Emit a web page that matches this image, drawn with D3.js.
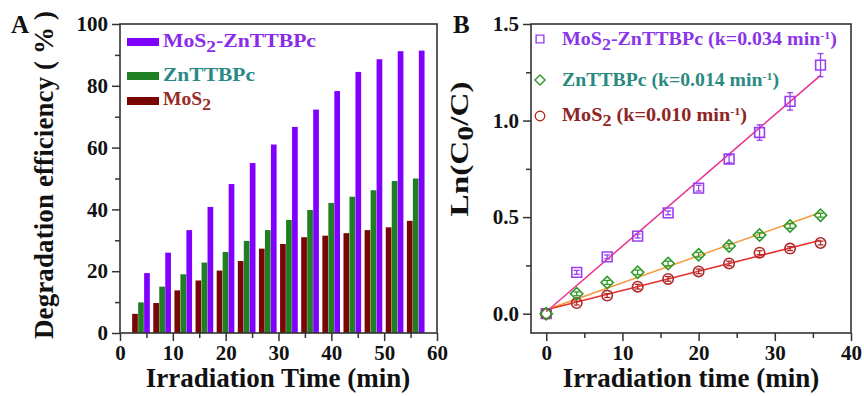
<!doctype html>
<html lang="en">
<head>
  <meta charset="UTF-8">
  <title>degradation</title>
  <style type="text/css">
    body { margin: 0; background: #fff; }
    text { font-family: "Liberation Serif", "Times New Roman", serif; font-weight: bold; }
  </style>
  <script src="https://cdn.jsdelivr.net/npm/d3@7/dist/d3.min.js"></script>
</head>
<body>
  <div id="container"></div>
  <script>
    // ---- panel A data (degradation %, per time point)
    var timesA = [4, 8, 12, 16, 20, 24, 28, 32, 36, 40, 44, 48, 52, 56];
    var hybrid = [19.4, 26, 33.3, 40.8, 48.2, 55, 61, 66.7, 72.3, 78.3, 84.5, 88.6, 91.2, 91.4];
    var znpc = [9.9, 15, 19, 22.8, 26.2, 29.8, 33.3, 36.6, 39.8, 42.1, 44.1, 46.2, 49.2, 50];
    var mos2 = [6.2, 9.7, 13.8, 17, 20.2, 23.3, 27.3, 28.8, 31, 31.5, 32.3, 33.3, 34.2, 36.3];
    var namesA = ["MoS_{2}-ZnTTBPc", "ZnTTBPc", "MoS_{2}"];

    // ---- panel B data (ln(C0/C))
    var timesB = [0, 4, 8, 12, 16, 20, 24, 28, 32, 36];
    var lnHybrid = [0, 0.214, 0.294, 0.402, 0.522, 0.65, 0.801, 0.938, 1.099, 1.287];
    var errHybrid = [0, 0.01, 0.01, 0.01, 0.01, 0.015, 0.02, 0.04, 0.045, 0.06];
    var lnZnpc = [0, 0.103, 0.162, 0.214, 0.26, 0.305, 0.351, 0.407, 0.454, 0.51];
    var errZnpc = [0, 0.01, 0.01, 0.012, 0.012, 0.012, 0.012, 0.012, 0.012, 0.01];
    var lnMos2 = [0, 0.055, 0.094, 0.14, 0.18, 0.219, 0.26, 0.316, 0.337, 0.366];
    var errMos2 = [0, 0.01, 0.01, 0.012, 0.012, 0.012, 0.012, 0.01, 0.01, 0.01];
    var kValues = [0.034, 0.014, 0.010];
    var intercepts = [0.01, 0.02, 0.02];
    var namesB = ["MoS_{2}-ZnTTBPc (k=0.034 min^{-1})", "ZnTTBPc (k=0.014 min^{-1})", "MoS_{2} (k=0.010 min^{-1})"];

    var width = 864, height = 396;
    var svg = d3.select('#container').append('svg').attr('width', width).attr('height', height);

    // text with _{sub} and ^{sup}
    function rich(t, str) {
      var parts = str.split(/(_\{[^}]*\}|\^\{[^}]*\})/).filter(Boolean);
      var back = 0;
      parts.forEach(function (p) {
        var ts = t.append('tspan');
        if (p[0] == '_') {
          ts.attr('dy', back + 5).attr('font-size', '0.9em').text(p.slice(2, -1)); back = -5;
        } else if (p[0] == '^') {
          ts.attr('dy', back - 6).attr('font-size', '0.6em').text(p.slice(2, -1)); back = 6;
        } else {
          ts.attr('dy', back).text(p); back = 0;
        }
      });
      return t;
    }

    function frame(g, x, y) {
      g.append('rect')
        .attr('x', x.range()[0]).attr('y', y.range()[1])
        .attr('width', x.range()[1] - x.range()[0])
        .attr('height', y.range()[0] - y.range()[1])
        .attr('fill', 'none').attr('stroke', '#333').attr('stroke-width', 1.6);
    }

    function axes(g, x, y, xt, xm, yt, ym, yfmt) {
      var ax = g.append('g').attr('transform', 'translate(0,' + y.range()[0] + ')')
        .call(d3.axisBottom(x).tickValues(xm).tickSize(5).tickFormat(''));
      ax.select('.domain').remove();
      var ax2 = g.append('g').attr('transform', 'translate(0,' + y.range()[0] + ')')
        .call(d3.axisBottom(x).tickValues(xt).tickSize(8).tickPadding(4));
      ax2.select('.domain').remove();
      var ay = g.append('g').attr('transform', 'translate(' + x.range()[0] + ',0)')
        .call(d3.axisLeft(y).tickValues(ym).tickSize(5).tickFormat(''));
      ay.select('.domain').remove();
      var ay2 = g.append('g').attr('transform', 'translate(' + x.range()[0] + ',0)')
        .call(d3.axisLeft(y).tickValues(yt).tickSize(8).tickPadding(4).tickFormat(yfmt));
      ay2.select('.domain').remove();
      g.selectAll('.tick line').attr('stroke', '#333').attr('stroke-width', 1.5);
      g.selectAll('.tick text').attr('font-size', 21).attr('fill', '#111')
        .attr('font-family', '"Liberation Serif", serif').style('font-weight', 'bold');
    }

    // ================= Panel A =================
    var gA = svg.append('g');
    var xA = d3.scaleLinear().domain([0, 60]).range([120, 437]);
    var yA = d3.scaleLinear().domain([0, 100]).range([333, 24]);
    var colorsA = ['#7f00ff', '#1f7f22', '#7a0505'];
    var textColA = ['#8a2be8', '#2a8a86', '#9a2a2a'];
    var seriesA = [mos2, znpc, hybrid];
    var colA = [colorsA[2], colorsA[1], colorsA[0]];
    var off = d3.scaleBand().domain([0, 1, 2]).range([-1.7, 1.7]).padding(0);
    seriesA.forEach(function (s, k) {
      gA.append('g').selectAll('rect').data(s).enter().append('rect')
        .attr('x', function (d, i) { return xA(timesA[i] + off(k)); })
        .attr('width', xA(off.bandwidth()) - xA(0) - 0.3)
        .attr('y', function (d) { return yA(d); })
        .attr('height', function (d) { return yA(0) - yA(d); })
        .attr('fill', colA[k]);
    });
    frame(gA, xA, yA);
    axes(gA, xA, yA, d3.range(0, 61, 10), d3.range(5, 60, 10), d3.range(0, 101, 20), d3.range(10, 100, 20), d3.format('d'));

    // legend A
    var legA = { y: [42, 76, 101], base: [47, 81, 105], len: [153, 92, 48] };
    namesA.forEach(function (n, i) {
      gA.append('rect').attr('x', 127).attr('y', legA.y[i] - 4).attr('width', 32).attr('height', 8).attr('fill', colorsA[i]);
      rich(gA.append('text').attr('x', 163).attr('y', legA.base[i]).attr('font-size', 18).attr('fill', textColA[i])
        .attr('textLength', legA.len[i]).attr('lengthAdjust', 'spacingAndGlyphs'), n);
    });

    gA.append('text').attr('x', 278).attr('y', 387).attr('text-anchor', 'middle').attr('font-size', 27)
      .attr('fill', '#111').text('Irradiation Time (min)');
    gA.append('text').attr('transform', 'translate(53,175) rotate(-90)').attr('text-anchor', 'middle')
      .attr('font-size', 27).attr('fill', '#111')
      .attr('textLength', 328).attr('lengthAdjust', 'spacing').text('Degradation efficiency ( % )');
    gA.append('text').attr('x', 11).attr('y', 33).attr('font-size', 25).attr('fill', '#111').text('A');

    // ================= Panel B =================
    var gB = svg.append('g');
    var xB = d3.scaleLinear().domain([-2, 40]).range([531, 851]);
    var yB = d3.scaleLinear().domain([-0.1, 1.5]).range([333, 24]);
    var markCol = ['#9a3ff0', '#2f9a2a', '#b02a2a'];
    var lineCol = ['#e8308c', '#f59a3a', '#e83232'];
    var textColB = ['#8a35e8', '#2a8a80', '#8e2424'];

    // fit lines
    kValues.forEach(function (k, i) {
      var ends = [timesB[0], timesB[timesB.length - 1]];
      gB.append('line')
        .attr('x1', xB(ends[0])).attr('y1', yB(intercepts[i] + k * ends[0]))
        .attr('x2', xB(ends[1])).attr('y2', yB(intercepts[i] + k * ends[1]))
        .attr('stroke', lineCol[i]).attr('stroke-width', 1.5);
    });

    function errBars(vals, errs, col) {
      var g = gB.append('g').attr('stroke', col).attr('stroke-width', 1.3);
      vals.forEach(function (v, i) {
        if (!errs[i]) return;
        var cx = xB(timesB[i]);
        g.append('line').attr('x1', cx).attr('x2', cx).attr('y1', yB(v - errs[i])).attr('y2', yB(v + errs[i]));
        g.append('line').attr('x1', cx - 3).attr('x2', cx + 3).attr('y1', yB(v - errs[i])).attr('y2', yB(v - errs[i]));
        g.append('line').attr('x1', cx - 3).attr('x2', cx + 3).attr('y1', yB(v + errs[i])).attr('y2', yB(v + errs[i]));
      });
    }

    var symSq = d3.symbol().type(d3.symbolSquare).size(95);
    var symDi = d3.symbol().type(d3.symbolSquare).size(75);
    var symCi = d3.symbol().type(d3.symbolCircle).size(85);
    var ptSeries = [
      { v: lnHybrid, e: errHybrid, sym: symSq, c: markCol[0], rot: 0 },
      { v: lnMos2, e: errMos2, sym: symCi, c: markCol[2], rot: 0 },
      { v: lnZnpc, e: errZnpc, sym: symDi, c: markCol[1], rot: 45 }
    ];
    ptSeries.forEach(function (s) {
      errBars(s.v, s.e, s.c);
      gB.append('g').selectAll('path').data(s.v).enter().append('path')
        .attr('d', s.sym)
        .attr('transform', function (d, i) { return 'translate(' + xB(timesB[i]) + ',' + yB(d) + ') rotate(' + s.rot + ')'; })
        .attr('fill', 'none').attr('stroke', s.c).attr('stroke-width', 1.6);
    });

    frame(gB, xB, yB);
    axes(gB, xB, yB, d3.range(0, 41, 10), d3.range(5, 40, 10), [0, 0.5, 1.0, 1.5], [0.25, 0.75, 1.25], d3.format('.1f'));

    // legend B
    var legB = { y: [39, 80, 116], base: [45, 86, 121], len: [275, 217, 185],
      sym: [d3.symbolSquare, d3.symbolSquare, d3.symbolCircle], size: [60, 52, 70], rot: [0, 45, 0] };
    namesB.forEach(function (n, i) {
      gB.append('path').attr('d', d3.symbol().type(legB.sym[i]).size(legB.size[i]))
        .attr('transform', 'translate(540,' + legB.y[i] + ') rotate(' + legB.rot[i] + ')')
        .attr('fill', 'none').attr('stroke', markCol[i]).attr('stroke-width', 1.4);
      rich(gB.append('text').attr('x', 562).attr('y', legB.base[i]).attr('font-size', 18).attr('fill', textColB[i])
        .attr('textLength', legB.len[i]).attr('lengthAdjust', 'spacingAndGlyphs'), n);
    });

    gB.append('text').attr('x', 691).attr('y', 387).attr('text-anchor', 'middle').attr('font-size', 27)
      .attr('fill', '#111').text('Irradiation time (min)');
    rich(gB.append('text').attr('transform', 'translate(468,149) rotate(-90)').attr('text-anchor', 'middle')
      .attr('font-size', 26).attr('fill', '#111')
      .attr('textLength', 135).attr('lengthAdjust', 'spacingAndGlyphs'), 'Ln(C_{0}/C)');
    gB.append('text').attr('x', 453).attr('y', 33).attr('font-size', 25).attr('fill', '#111').text('B');
  </script>
</body>
</html>
